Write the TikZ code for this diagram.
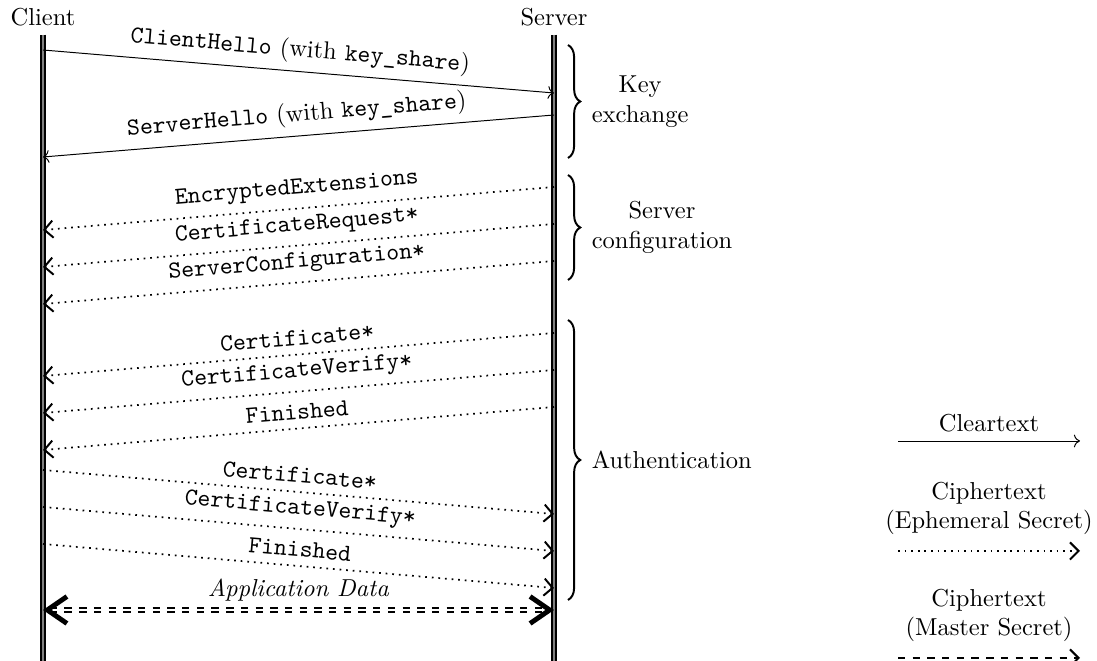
\documentclass[tikz,border=0pt]{standalone}
\usepackage{tikz}
\usetikzlibrary{arrows.meta,positioning,decorations.pathreplacing}

\begin{document}
\begin{tikzpicture}[x=0.4082pt, y=-0.4082pt,
  lifeline/.style={line width=0.6pt, double=gray, double distance=0.9pt},
  clear/.style={->},
  ephemeral/.style={line width=0.7pt, dotted, -{Straight Barb[length=3.5pt, width=7pt, line width=0.8pt]}},
  master/.style={line width=0.6pt, dashed, -{Straight Barb[length=3.5pt, width=7pt, line width=0.8pt]}},
  appdata/.style={thick, double, double distance=1.2pt, dashed, {Straight Barb[length=8pt, width=11pt, line width=2pt]}-{Straight Barb[length=8pt, width=11pt, line width=2pt]}},
  msg/.style={midway, above, sloped},
  group/.style={thick, decorate, decoration={brace, amplitude=5pt}}]
\useasboundingbox (0,0) rectangle (1097,661);

% 参与方
\node (client) at (43,17) {Client};
\node (server) at (554,17) {Server};
\draw[lifeline] (client.south) -- (client |- 0,661);
\draw[lifeline] (server.south) -- (server |- 0,661);

% 密钥交换
\draw[clear] (client |- 0,50) -- node[msg] {\texttt{ClientHello} (with \texttt{key\_share})} (server |- 0,93);
\draw[clear] (server |- 0,115) -- node[msg] {\texttt{ServerHello} (with \texttt{key\_share})} (client |- 0,157);

% 服务器配置
\draw[ephemeral] (server |- 0,187) -- node[msg] {\texttt{EncryptedExtensions}} (client |- 0,230);
\draw[ephemeral] (server |- 0,224) -- node[msg] {\texttt{CertificateRequest*}} (client |- 0,267);
\draw[ephemeral] (server |- 0,261) -- node[msg] {\texttt{ServerConfiguration*}} (client |- 0,304);

% 认证
\draw[ephemeral] (server |- 0,333) -- node[msg] {\texttt{Certificate*}} (client |- 0,376);
\draw[ephemeral] (server |- 0,370) -- node[msg] {\texttt{CertificateVerify*}} (client |- 0,413);
\draw[ephemeral] (server |- 0,407) -- node[msg] {\texttt{Finished}} (client |- 0,450);
\draw[ephemeral] (client |- 0,470) -- node[msg] {\texttt{Certificate*}} (server |- 0,514);
\draw[ephemeral] (client |- 0,507) -- node[msg] {\texttt{CertificateVerify*}} (server |- 0,551);
\draw[ephemeral] (client |- 0,544) -- node[msg] {\texttt{Finished}} (server |- 0,588);

% 应用数据
\draw[appdata] (client |- 0,610) -- node[above] {\textit{Application Data}} (server |- 0,610);

% 阶段括号
\draw[group] (568,45) -- node[midway, right=6pt, align=center] (keyex) {Key\\exchange} (568,158);
\draw[group] (568,175) -- node[midway, right=6pt, align=center] (srvconf) {Server\\configuration} (568,280);
\draw[group] (568,320) -- node[midway, right=6pt] (auth) {Authentication} (568,600);

% 图例
\coordinate (clear a) at (898,441);
\coordinate (clear b) at (1080,441);
\coordinate (eph a) at (898,551);
\coordinate (eph b) at (1080,551);
\coordinate (mst a) at (898,658);
\coordinate (mst b) at (1080,658);
\draw[clear] (clear a) -- node[above] (cleartext) {Cleartext} (clear b);
\draw[ephemeral] (eph a) -- node[above=3pt, align=center] (ephtext) {Ciphertext\\(Ephemeral Secret)} (eph b);
\draw[master] (mst a) -- node[above=3pt, align=center] (msttext) {Ciphertext\\(Master Secret)} (mst b);
\end{tikzpicture}
\end{document}
